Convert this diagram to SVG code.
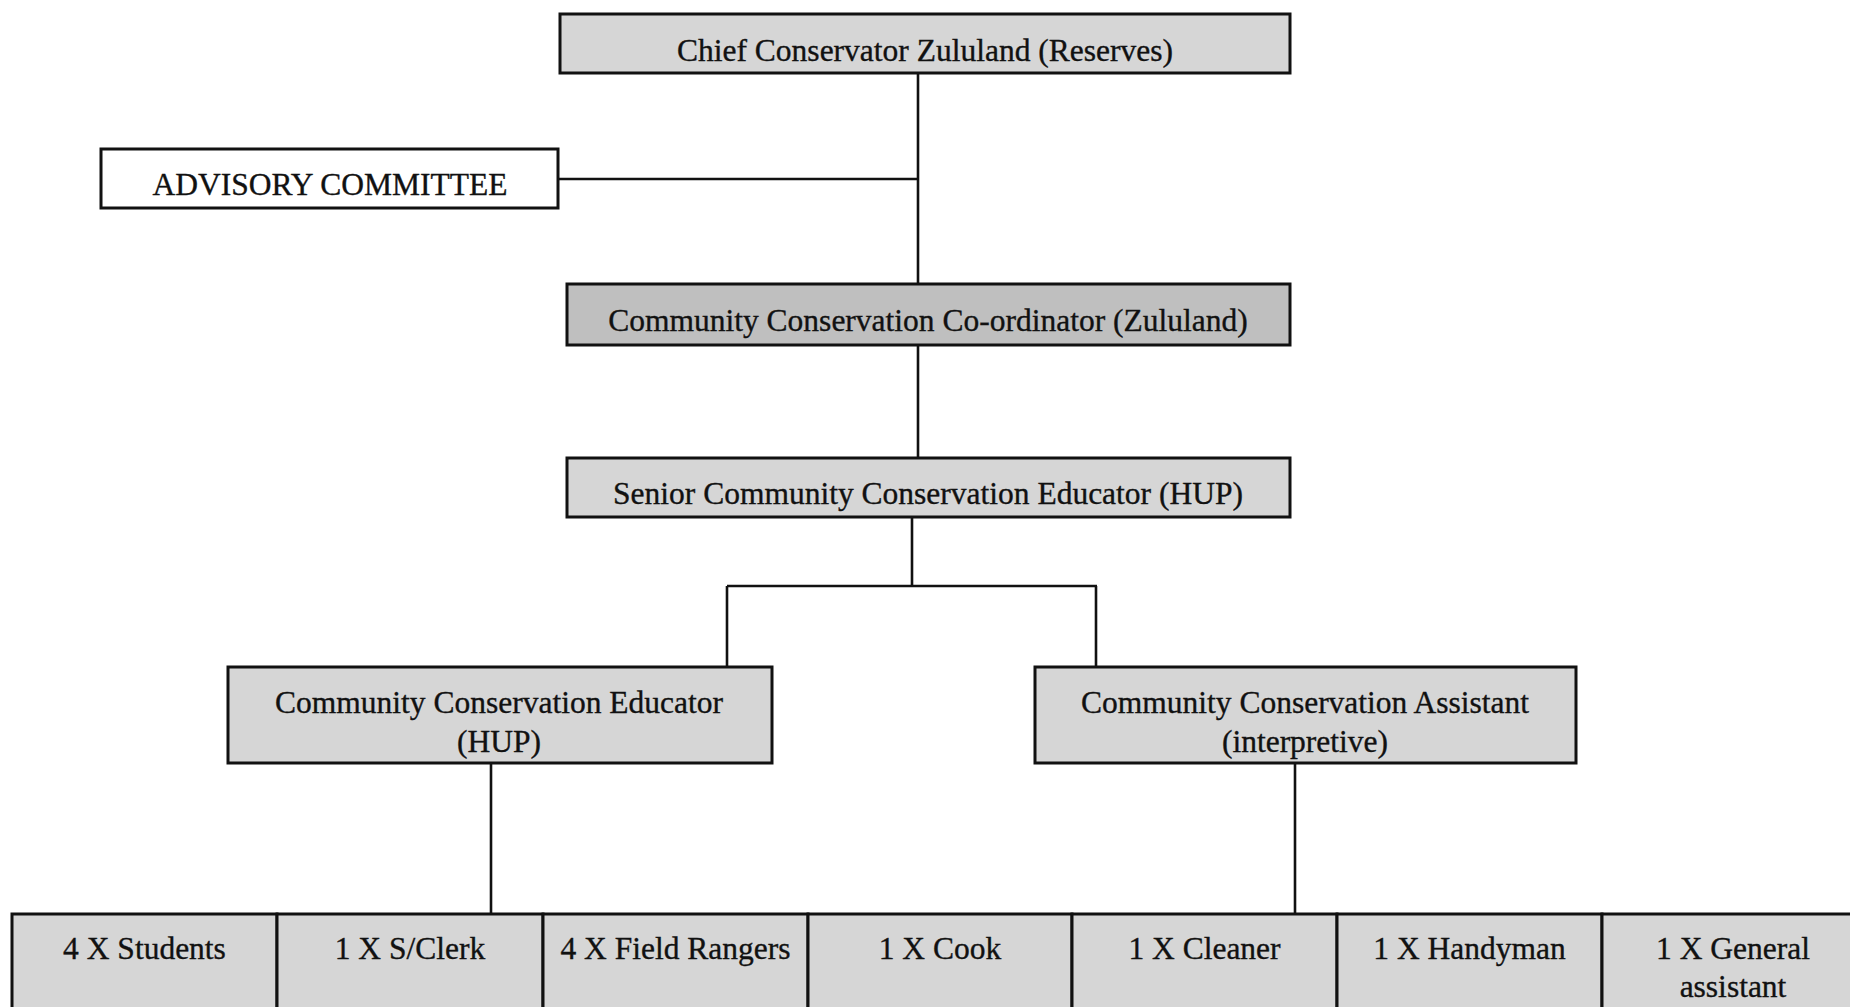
<svg xmlns="http://www.w3.org/2000/svg" width="1850" height="1007" viewBox="0 0 1850 1007">
<style>
.box{fill:#d6d6d6;stroke:#111;stroke-width:3}
.dark{fill:#bfbfbf}
.white{fill:#fff}
.t{font-family:"Liberation Serif","Times New Roman",serif;font-size:31.5px;fill:#111;stroke:#111;stroke-width:0.35;text-anchor:middle}
.c{fill:none;stroke:#111;stroke-width:2.6}
</style>
<rect width="1850" height="1007" fill="#fff"/>
<g id="connectors">
<path class="c" d="M918 73 V284"/>
<path class="c" d="M558 179 H918"/>
<path class="c" d="M918 345 V458"/>
<path class="c" d="M912 517 V586"/>
<path class="c" d="M727 586 H1097"/>
<path class="c" d="M727 586 V667"/>
<path class="c" d="M1096 586 V667"/>
<path class="c" d="M491 763 V914"/>
<path class="c" d="M1295 763 V914"/>
</g>
<g id="chief"><rect class="box" x="560" y="14" width="730" height="59"/><text class="t" x="925" y="61">Chief Conservator Zululand (Reserves)</text></g>
<g id="advisory"><rect class="box white" x="101" y="149" width="457" height="59"/><text class="t" x="330" y="195">ADVISORY COMMITTEE</text></g>
<g id="coordinator"><rect class="box dark" x="567" y="284" width="723" height="61"/><text class="t" x="928" y="331">Community Conservation Co-ordinator (Zululand)</text></g>
<g id="senior"><rect class="box" x="567" y="458" width="723" height="59"/><text class="t" x="928" y="504">Senior Community Conservation Educator (HUP)</text></g>
<g id="educator"><rect class="box" x="228" y="667" width="544" height="96"/><text class="t" x="499" y="713">Community Conservation Educator</text><text class="t" x="499" y="752">(HUP)</text></g>
<g id="assistant"><rect class="box" x="1035" y="667" width="541" height="96"/><text class="t" x="1305" y="713">Community Conservation Assistant</text><text class="t" x="1305" y="752">(interpretive)</text></g>
<g id="students"><rect class="box" x="12" y="914" width="265" height="120"/><text class="t" x="144.5" y="959">4 X Students</text></g>
<g id="clerk"><rect class="box" x="277" y="914" width="266" height="120"/><text class="t" x="410" y="959">1 X S/Clerk</text></g>
<g id="rangers"><rect class="box" x="543" y="914" width="265" height="120"/><text class="t" x="675.5" y="959">4 X Field Rangers</text></g>
<g id="cook"><rect class="box" x="808" y="914" width="264" height="120"/><text class="t" x="940" y="959">1 X Cook</text></g>
<g id="cleaner"><rect class="box" x="1072" y="914" width="265" height="120"/><text class="t" x="1204.5" y="959">1 X Cleaner</text></g>
<g id="handyman"><rect class="box" x="1337" y="914" width="265" height="120"/><text class="t" x="1469.5" y="959">1 X Handyman</text></g>
<g id="general"><rect class="box" x="1602" y="914" width="265" height="120"/><text class="t" x="1733" y="959">1 X General</text><text class="t" x="1733" y="997">assistant</text></g>
</svg>
